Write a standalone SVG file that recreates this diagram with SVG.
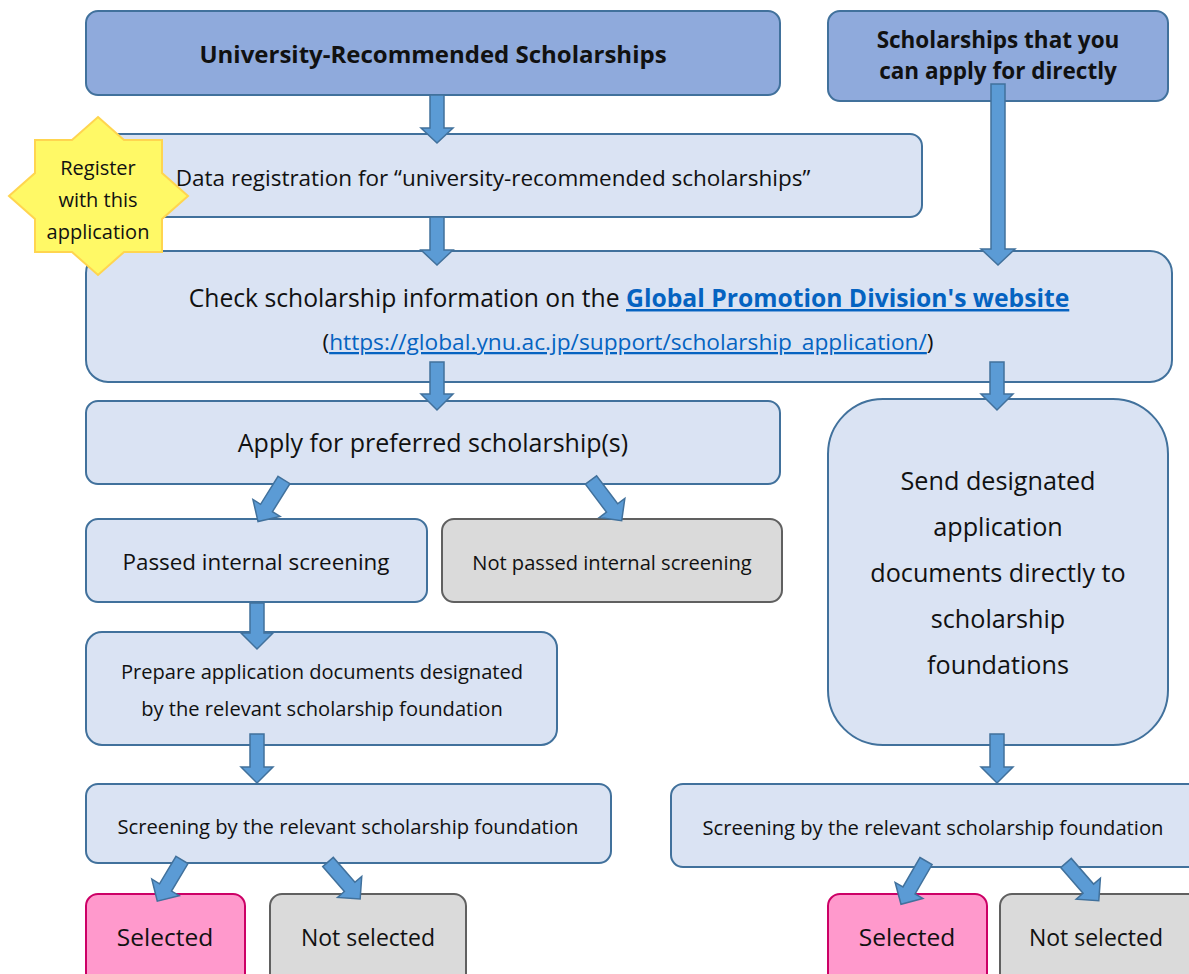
<svg xmlns="http://www.w3.org/2000/svg" width="1189" height="974" viewBox="0 0 1189 974">
<defs>
<style>
text{font-family:"Open Sans","Noto Sans","DejaVu Sans",sans-serif;fill:#111;text-anchor:middle}
.hd{fill:#8FAADC;stroke:#41719C;stroke-width:2}
.lt{fill:#DAE3F3;stroke:#41719C;stroke-width:2}
.gr{fill:#DADADA;stroke:#606060;stroke-width:2}
.pk{fill:#FF99CC;stroke:#CC0066;stroke-width:2}
.b{font-weight:bold}
.lnk{fill:#0563C1;text-decoration:underline}
.ar{fill:#5B9BD5;stroke:#41719C;stroke-width:1.5}
</style>
</defs>
<rect width="1189" height="974" fill="#fff"/>

<g id="n-univ"><rect class="hd" x="86" y="11" width="694" height="84" rx="12"/><text class="b" x="433" y="63" font-size="24">University-Recommended Scholarships</text></g>
<g id="n-direct"><rect class="hd" x="828" y="11" width="340" height="90" rx="12"/><text class="b" x="998" y="48" font-size="22.5">Scholarships that you</text><text class="b" x="998" y="79" font-size="22.5">can apply for directly</text></g>
<g id="n-datareg"><rect class="lt" x="86" y="134" width="836" height="83" rx="12"/><text x="493" y="186" font-size="22.5">Data registration for “university-recommended scholarships”</text></g>
<g id="n-check"><rect class="lt" x="86" y="251" width="1086" height="131" rx="22"/>
<text x="629" y="307" font-size="24.7">Check scholarship information on the <tspan class="b lnk">Global Promotion Division's website</tspan></text>
<text x="628" y="350" font-size="22.7">(<tspan class="lnk">https://global.ynu.ac.jp/support/scholarship_application/</tspan>)</text></g>
<g id="n-apply"><rect class="lt" x="86" y="401" width="694" height="83" rx="12"/><text x="433" y="452" font-size="25">Apply for preferred scholarship(s)</text></g>
<g id="n-send"><rect class="lt" x="828" y="399" width="340" height="346" rx="55"/>
<text x="998" y="490" font-size="25.2">Send designated</text><text x="998" y="536" font-size="25.2">application</text><text x="998" y="582" font-size="25.2">documents directly to</text><text x="998" y="628" font-size="25.2">scholarship</text><text x="998" y="674" font-size="25.2">foundations</text></g>
<g id="n-passed"><rect class="lt" x="86" y="519" width="341" height="83" rx="12"/><text x="256" y="570" font-size="22.4">Passed internal screening</text></g>
<g id="n-notpassed"><rect class="gr" x="442" y="519" width="340" height="83" rx="12"/><text x="612" y="570" font-size="20.1">Not passed internal screening</text></g>
<g id="n-prepare"><rect class="lt" x="86" y="632" width="471" height="113" rx="16"/><text x="322" y="679" font-size="20.1">Prepare application documents designated</text><text x="322" y="716" font-size="20.1">by the relevant scholarship foundation</text></g>
<g id="n-screenL"><rect class="lt" x="86" y="784" width="525" height="79" rx="12"/><text x="348" y="834" font-size="20.2">Screening by the relevant scholarship foundation</text></g>
<g id="n-screenR"><rect class="lt" x="671" y="784" width="530" height="83" rx="12"/><text x="933" y="835" font-size="20.2">Screening by the relevant scholarship foundation</text></g>
<g id="n-selL"><rect class="pk" x="86" y="894" width="159" height="100" rx="12"/><text x="165" y="946" font-size="24.5">Selected</text></g>
<g id="n-notselL"><rect class="gr" x="270" y="894" width="196" height="100" rx="12"/><text x="368" y="946" font-size="23">Not selected</text></g>
<g id="n-selR"><rect class="pk" x="828" y="894" width="159" height="100" rx="12"/><text x="907" y="946" font-size="24.5">Selected</text></g>
<g id="n-notselR"><rect class="gr" x="1000" y="894" width="210" height="100" rx="12"/><text x="1096" y="946" font-size="23">Not selected</text></g>

<g id="connectors">
<path class="ar" d="M430,95 H444 V128 H453 L437,143 L421,128 H430 Z"/>
<path class="ar" d="M430,217 H444 V250 H453 L437,265 L421,250 H430 Z"/>
<path class="ar" d="M991,84 H1005 V249 H1015 L998,265 L981,249 H991 Z"/>
<path class="ar" d="M430,362 H444 V394 H453 L437,410 L421,394 H430 Z"/>
<path class="ar" d="M990,362 H1004 V394 H1013 L997,410 L981,394 H990 Z"/>
<path class="ar" d="M250,603 H264 V633 H273 L257,649 L241,633 H250 Z"/>
<path class="ar" d="M250,734 H264 V767 H273 L257,783 L241,767 H250 Z"/>
<path class="ar" d="M990,734 H1004 V767 H1013 L997,783 L981,767 H990 Z"/>
<path class="ar" transform="translate(284,480) rotate(32)" d="M-7,0 H7 V33 H16 L0,49 L-16,33 H-7 Z"/>
<path class="ar" transform="translate(591,480) rotate(-37)" d="M-7,0 H7 V35 H16 L0,51 L-16,35 H-7 Z"/>
<path class="ar" transform="translate(182,860) rotate(31)" d="M-7,0 H7 V32 H16 L0,48 L-16,32 H-7 Z"/>
<path class="ar" transform="translate(328,862) rotate(-41)" d="M-7,0 H7 V33 H16 L0,49 L-16,33 H-7 Z"/>
<path class="ar" transform="translate(926,861) rotate(30)" d="M-7,0 H7 V34 H16 L0,50 L-16,34 H-7 Z"/>
<path class="ar" transform="translate(1066,863) rotate(-41)" d="M-7,0 H7 V34 H16 L0,50 L-16,34 H-7 Z"/>
</g>

<g id="n-star">
<polygon points="98,117 124,140 162,140 162,173 188,196 162,219 162,252 124,252 98,275 72,252 35,252 35,219 9,196 35,173 35,140 72,140" fill="#FFF966" stroke="#FFD54F" stroke-width="2"/>
<text x="98" y="175" font-size="20">Register</text><text x="98" y="207" font-size="20">with this</text><text x="98" y="239" font-size="20">application</text>
</g>
</svg>
